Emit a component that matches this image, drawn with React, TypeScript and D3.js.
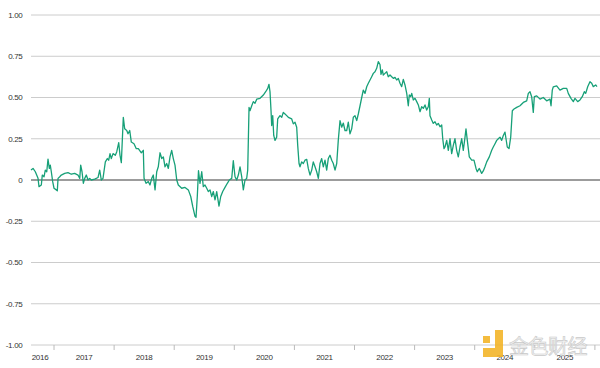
import React from "react";
import * as d3 from "d3";

// decimal years and correlation values
const years: number[] = [
  2016.617, 2016.651, 2016.689, 2016.734, 2016.75, 2016.789, 2016.805, 2016.834, 2016.855, 2016.879,
  2016.9, 2016.922, 2016.938, 2016.955, 2016.978, 2017.0, 2017.038, 2017.055, 2017.067, 2017.095,
  2017.121, 2017.178, 2017.233, 2017.288, 2017.344, 2017.399, 2017.428, 2017.444, 2017.466, 2017.488,
  2017.511, 2017.537, 2017.566, 2017.594, 2017.621, 2017.677, 2017.732, 2017.76, 2017.787, 2017.815,
  2017.854, 2017.887, 2017.91, 2017.932, 2017.953, 2017.982, 2018.02, 2018.043, 2018.077, 2018.098,
  2018.12, 2018.153, 2018.176, 2018.21, 2018.231, 2018.26, 2018.286, 2018.331, 2018.369, 2018.403,
  2018.453, 2018.486, 2018.498, 2018.531, 2018.569, 2018.597, 2018.626, 2018.652, 2018.681, 2018.709,
  2018.735, 2018.764, 2018.792, 2018.819, 2018.847, 2018.875, 2018.902, 2018.93, 2018.958, 2018.985,
  2019.013, 2019.042, 2019.068, 2019.125, 2019.18, 2019.235, 2019.275, 2019.308, 2019.346, 2019.363,
  2019.384, 2019.404, 2019.429, 2019.458, 2019.484, 2019.512, 2019.541, 2019.567, 2019.596, 2019.624,
  2019.651, 2019.679, 2019.707, 2019.745, 2019.774, 2019.807, 2019.845, 2019.884, 2019.917, 2019.957,
  2019.983, 2020.012, 2020.04, 2020.067, 2020.095, 2020.123, 2020.15, 2020.178, 2020.206, 2020.223,
  2020.245, 2020.261, 2020.29, 2020.316, 2020.344, 2020.373, 2020.428, 2020.483, 2020.522, 2020.556,
  2020.577, 2020.594, 2020.611, 2020.622, 2020.639, 2020.656, 2020.677, 2020.705, 2020.722, 2020.76,
  2020.789, 2020.815, 2020.844, 2020.872, 2020.899, 2020.955, 2020.982, 2021.01, 2021.038, 2021.055,
  2021.077, 2021.093, 2021.121, 2021.148, 2021.176, 2021.205, 2021.231, 2021.26, 2021.288, 2021.314,
  2021.343, 2021.371, 2021.398, 2021.426, 2021.454, 2021.481, 2021.509, 2021.537, 2021.564, 2021.592,
  2021.621, 2021.647, 2021.676, 2021.704, 2021.73, 2021.759, 2021.787, 2021.814, 2021.842, 2021.87,
  2021.897, 2021.925, 2021.953, 2021.98, 2022.008, 2022.037, 2022.063, 2022.092, 2022.12, 2022.146,
  2022.175, 2022.203, 2022.23, 2022.258, 2022.286, 2022.313, 2022.341, 2022.369, 2022.396, 2022.424,
  2022.441, 2022.463, 2022.479, 2022.507, 2022.536, 2022.562, 2022.591, 2022.619, 2022.646, 2022.674,
  2022.702, 2022.729, 2022.757, 2022.785, 2022.812, 2022.84, 2022.869, 2022.895, 2022.912, 2022.935,
  2022.952, 2022.978, 2023.007, 2023.035, 2023.062, 2023.09, 2023.118, 2023.145, 2023.173, 2023.201,
  2023.228, 2023.245, 2023.256, 2023.285, 2023.311, 2023.339, 2023.368, 2023.394, 2023.423, 2023.451,
  2023.468, 2023.489, 2023.506, 2023.534, 2023.561, 2023.589, 2023.617, 2023.644, 2023.672, 2023.7,
  2023.727, 2023.755, 2023.784, 2023.81, 2023.839, 2023.855, 2023.877, 2023.91, 2023.95, 2023.988,
  2024.022, 2024.043, 2024.077, 2024.116, 2024.143, 2024.171, 2024.2, 2024.243, 2024.283, 2024.309,
  2024.338, 2024.366, 2024.393, 2024.421, 2024.449, 2024.476, 2024.504, 2024.521, 2024.542, 2024.571,
  2024.599, 2024.626, 2024.654, 2024.699, 2024.754, 2024.809, 2024.865, 2024.892, 2024.92, 2024.948,
  2024.975, 2024.992, 2025.032, 2025.087, 2025.141, 2025.198, 2025.253, 2025.27, 2025.291, 2025.308,
  2025.364, 2025.419, 2025.474, 2025.531, 2025.557, 2025.602, 2025.641, 2025.669, 2025.714, 2025.752,
  2025.79, 2025.824, 2025.847, 2025.88, 2025.918, 2025.947, 2025.973, 2026.013, 2026.035,
];

const values: number[] = [
  0.06, 0.07, 0.05, 0.01, -0.04, -0.03, 0.03, 0.02, 0.06, 0.05,
  0.127, 0.07, 0.09, 0.05, -0.01, -0.05, -0.06, -0.065, 0.01, 0.02,
  0.03, 0.04, 0.045, 0.035, 0.04, 0.03, 0.01, 0.09, 0.05, -0.02,
  0.01, 0.03, 0.0, 0.01, 0.0, 0.005, 0.015, 0.06, 0.0, 0.01,
  0.11, 0.13, 0.12, 0.16, 0.13, 0.16, 0.15, 0.17, 0.226, 0.15,
  0.105, 0.38, 0.31, 0.3, 0.28, 0.3, 0.23, 0.22, 0.19, 0.19,
  0.165, 0.18, 0.01, -0.02, -0.01, -0.03, 0.01, 0.03, -0.06, 0.05,
  0.08, 0.165, 0.13, 0.14, 0.08, 0.1, 0.07, 0.14, 0.18, 0.13,
  0.09, 0.0, -0.03, -0.05, -0.045, -0.06, -0.1, -0.16, -0.22, -0.226,
  -0.1, 0.056, -0.02, 0.05, -0.04, -0.03, -0.05, -0.07, -0.06, -0.1,
  -0.07, -0.12, -0.07, -0.158, -0.1, -0.07, -0.045, -0.02, 0.0, 0.01,
  0.117, 0.02, 0.0, 0.03, 0.08, 0.02, -0.06, 0.0, 0.01, 0.06,
  0.44, 0.42, 0.45, 0.475, 0.465, 0.49, 0.495, 0.515, 0.535, 0.555,
  0.58, 0.535, 0.42, 0.33, 0.39, 0.27, 0.24, 0.26, 0.37, 0.39,
  0.38, 0.41, 0.4, 0.39, 0.38, 0.37, 0.34, 0.35, 0.32, 0.21,
  0.1, 0.08, 0.11, 0.1, 0.12, 0.125, 0.07, 0.03, 0.06, 0.11,
  0.08, 0.05, 0.01, 0.1, 0.13, 0.08, 0.12, 0.06, 0.13, 0.15,
  0.12, 0.1, 0.06, 0.1, 0.24, 0.36, 0.32, 0.345, 0.3, 0.3,
  0.35, 0.28, 0.31, 0.38, 0.39, 0.36, 0.4, 0.45, 0.5, 0.545,
  0.525, 0.565, 0.586, 0.606, 0.626, 0.646, 0.656, 0.677, 0.717, 0.7,
  0.64, 0.667, 0.636, 0.646, 0.656, 0.626, 0.636, 0.626, 0.616, 0.622,
  0.606, 0.616, 0.586, 0.566, 0.61, 0.576, 0.525, 0.45, 0.515, 0.505,
  0.525, 0.485, 0.495, 0.475, 0.455, 0.414, 0.444, 0.434, 0.455, 0.424,
  0.444, 0.495, 0.39, 0.364, 0.343, 0.353, 0.333, 0.343, 0.323, 0.333,
  0.25, 0.19, 0.2, 0.24, 0.18, 0.25, 0.16, 0.21, 0.25, 0.18,
  0.14, 0.2, 0.25, 0.18, 0.26, 0.31, 0.24, 0.14, 0.12, 0.12,
  0.07, 0.05, 0.07, 0.04, 0.055, 0.08, 0.11, 0.14, 0.18, 0.2,
  0.22, 0.24, 0.25, 0.26, 0.24, 0.27, 0.29, 0.25, 0.2, 0.19,
  0.26, 0.42, 0.43, 0.44, 0.45, 0.47, 0.48, 0.525, 0.535, 0.505,
  0.41, 0.505, 0.51, 0.49, 0.5, 0.48, 0.49, 0.45, 0.545, 0.565,
  0.57, 0.545, 0.555, 0.555, 0.525, 0.495, 0.475, 0.495, 0.475, 0.485,
  0.505, 0.535, 0.525, 0.565, 0.596, 0.586, 0.566, 0.576, 0.566,
];

const yTicks: number[] = [1, 0.75, 0.5, 0.25, 0, -0.25, -0.5, -0.75, -1];
const yTickLabels: string[] = ["1.00", "0.75", "0.50", "0.25", "0", "-0.25", "-0.50", "-0.75", "-1.00"];
const yearLabels: number[] = [2016, 2017, 2018, 2019, 2020, 2021, 2022, 2023, 2024, 2025];
const yearTicks: number[] = [2017, 2018, 2019, 2020, 2021, 2022, 2023, 2024, 2025, 2026];

const W = 600;
const H = 368;
const left = 31;
const right = 600;
const top = 15;
const bottom = 345;
const xStart = 2016.617;
const xEnd = 2026.035;

export default function App() {
  const x = d3.scaleLinear().domain([xStart, xEnd]).range([31, 597]);
  const y = d3.scaleLinear().domain([-1, 1]).range([bottom, top]);
  const data = years.map((yr, i) => [yr, values[i]] as [number, number]);
  const line = d3
    .line<[number, number]>()
    .x((d) => x(d[0]))
    .y((d) => y(d[1]));
  const font = "'Liberation Sans', Arial, sans-serif";

  return (
    <svg
      width={W}
      height={H}
      style={{ position: "absolute", left: 0, top: 0, background: "#fff" }}
    >
      {yTicks.map((t, i) => (
        <g key={"gy" + i}>
          <line
            x1={left}
            x2={right}
            y1={y(t)}
            y2={y(t)}
            stroke={t === 0 ? "#3a3a3a" : "#cccccc"}
            strokeWidth={t === 0 ? 1.1 : 1}
          />
          <text
            x={22.5}
            y={y(t)}
            dy="0.35em"
            textAnchor="end"
            fontFamily={font}
            fontSize={8}
            letterSpacing={-0.3}
            fill="#333"
          >
            {yTickLabels[i]}
          </text>
        </g>
      ))}
      {yearTicks.map((t, i) => (
        <line
          key={"xt" + i}
          x1={x(t)}
          x2={x(t)}
          y1={bottom}
          y2={bottom + 5}
          stroke="#bbbbbb"
          strokeWidth={1}
        />
      ))}
      {yearLabels.map((yr, i) => (
        <text
          key={"xl" + i}
          x={Math.max(x(yr + 0.5), left + 9)}
          y={360}
          textAnchor="middle"
          fontFamily={font}
          fontSize={8}
          letterSpacing={-0.3}
          fill="#333"
        >
          {yr}
        </text>
      ))}
      <path
        d={line(data) || ""}
        fill="none"
        stroke="#17a078"
        strokeWidth={1.3}
        strokeLinejoin="round"
      />
      {/* watermark */}
      <g opacity={0.9}>
        <rect x={483} y={336} width={7} height={7} fill="#f3b52a" />
        <rect x={495} y={330} width={8} height={27} fill="#f3b52a" />
        <rect x={483} y={348} width={20} height={9} fill="#f3b52a" />
        <text
          x={509}
          y={354}
          fontFamily="'Noto Sans CJK SC', sans-serif"
          fontSize={20}
          fill="#f2f2f2"
          stroke="#c4c4c4"
          strokeWidth={0.6}
          letterSpacing={-0.5}
        >
          金色财经
        </text>
      </g>
    </svg>
  );
}
